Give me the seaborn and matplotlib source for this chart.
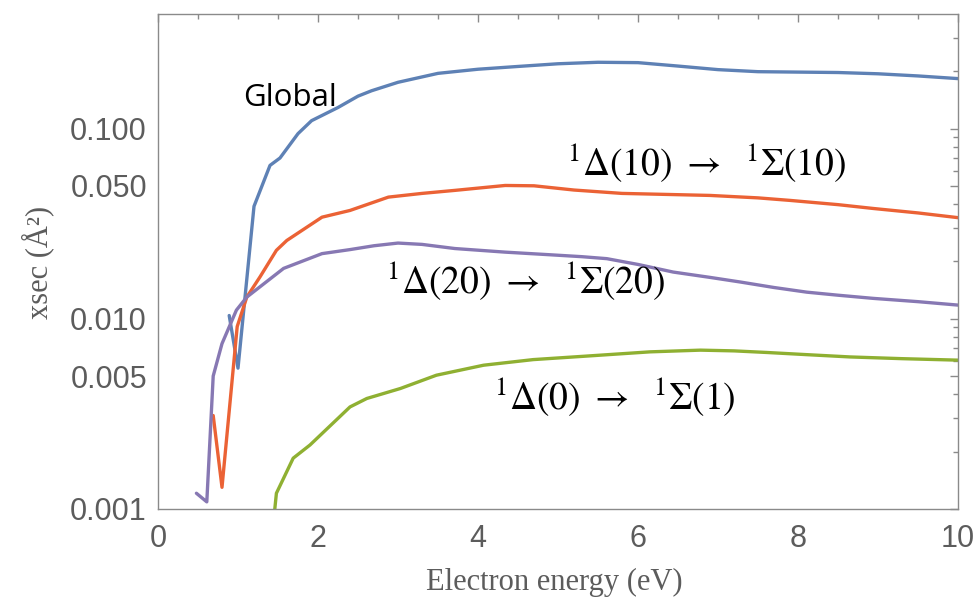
import numpy as np
import pandas as pd
import matplotlib
matplotlib.use("Agg")
import matplotlib.pyplot as plt
from matplotlib.ticker import FixedLocator, MultipleLocator, NullFormatter
import seaborn as sns

# ---------------- data ----------------
energy_global = [0.89, 1.0, 1.2, 1.4, 1.525, 1.75, 1.92, 2.25, 2.5, 2.67, 3.0, 3.5, 4.0, 4.5, 5.0, 5.5, 6.0, 6.5, 7.0, 7.5, 8.0, 8.5, 9.0, 9.5, 10.0]
xsec_global = [0.0104, 0.0055, 0.039, 0.064, 0.070, 0.094, 0.110, 0.129, 0.148, 0.158, 0.175, 0.195, 0.205, 0.212, 0.219, 0.223, 0.222, 0.213, 0.204, 0.199, 0.198, 0.197, 0.194, 0.189, 0.183]

energy_d10 = [0.69, 0.80, 0.99, 1.11, 1.275, 1.48, 1.61, 2.05, 2.4, 2.88, 3.3, 3.71, 4.34, 4.7, 5.2, 5.8, 6.4, 6.9, 7.5, 7.9, 8.5, 8.94, 9.5, 10.0]
xsec_d10 = [0.0031, 0.0013, 0.0091, 0.013, 0.0166, 0.0229, 0.0258, 0.0342, 0.0371, 0.0436, 0.0456, 0.0473, 0.0502, 0.0500, 0.0475, 0.0456, 0.0450, 0.0445, 0.0432, 0.0419, 0.0398, 0.038, 0.036, 0.034]

energy_d20 = [0.48, 0.61, 0.69, 0.80, 0.98, 1.11, 1.57, 2.05, 2.4, 2.7, 3.0, 3.3, 3.71, 4.34, 4.9, 5.3, 5.61, 6.0, 6.44, 6.9, 7.28, 7.7, 8.11, 8.5, 8.94, 9.5, 10.0]
xsec_d20 = [0.00121, 0.00109, 0.0050, 0.0074, 0.0111, 0.013, 0.0184, 0.022, 0.0231, 0.0242, 0.025, 0.0246, 0.0234, 0.0224, 0.0217, 0.0212, 0.0207, 0.0193, 0.0176, 0.0165, 0.0156, 0.0146, 0.0138, 0.0133, 0.0128, 0.0123, 0.0118]

energy_d0 = [1.46, 1.48, 1.69, 1.9, 2.4, 2.61, 3.03, 3.48, 4.07, 4.69, 5.32, 5.8, 6.15, 6.78, 7.2, 7.61, 8.1, 8.65, 9.3, 10.0]
xsec_d0 = [0.00100, 0.00121, 0.00185, 0.00217, 0.00344, 0.00381, 0.0043, 0.00505, 0.0057, 0.0061, 0.00635, 0.00655, 0.0067, 0.00684, 0.00678, 0.00665, 0.00648, 0.0063, 0.00617, 0.00606]

y_tick_values = [0.001, 0.005, 0.010, 0.050, 0.100]
y_tick_labels = ["0.001", "0.005", "0.010", "0.050", "0.100"]
x_tick_values = [0, 2, 4, 6, 8, 10]
x_tick_labels = ["0", "2", "4", "6", "8", "10"]

label_global = "Global"
label_d10 = r"$^1\Delta(10)\ \rightarrow\ \ ^1\Sigma(10)$"
label_d20 = r"$^1\Delta(20)\ \rightarrow\ \ ^1\Sigma(20)$"
label_d0 = r"$^1\Delta(0)\ \rightarrow\ \ ^1\Sigma(1)$"

# ---------------- style ----------------
sns.set_theme(style="white")
plt.rcParams["font.family"] = ["Liberation Sans", "DejaVu Sans"]
plt.rcParams["mathtext.fontset"] = "stix"

colors = {"global": "#5E81B5", "d10": "#EB6235", "d20": "#8778B3", "d0": "#8FB032"}
frame_color = "#8a8a8a"
text_gray = "#5c5c5c"

fig = plt.figure(figsize=(9.8, 6.01), dpi=100)
ax = fig.add_axes([158 / 980, (601 - 509) / 601, 800 / 980, 495 / 601])

series = [
    (energy_global, xsec_global, "global"),
    (energy_d10, xsec_d10, "d10"),
    (energy_d20, xsec_d20, "d20"),
    (energy_d0, xsec_d0, "d0"),
]
for xs, ys, key in series:
    df = pd.DataFrame({"energy": xs, "xsec": ys})
    sns.lineplot(data=df, x="energy", y="xsec", ax=ax, color=colors[key],
                 linewidth=2.4, estimator=None, sort=False, legend=False)

ax.set_yscale("log")
ax.set_xlim(0, 10)
ax.set_ylim(0.001, 0.4)

# ticks
ax.xaxis.set_major_locator(FixedLocator(x_tick_values))
ax.set_xticklabels(x_tick_labels)
ax.xaxis.set_minor_locator(MultipleLocator(0.5))
ax.yaxis.set_major_locator(FixedLocator(y_tick_values))
ax.set_yticklabels(y_tick_labels)
minor_y = [m * 10.0 ** e for e in (-3, -2, -1) for m in (2, 3, 4, 6, 7, 8, 9)]
ax.yaxis.set_minor_locator(FixedLocator([v for v in minor_y if v < 0.4]))
ax.yaxis.set_minor_formatter(NullFormatter())

ax.tick_params(which="both", direction="in", top=True, right=True,
               color=frame_color, width=1.0)
ax.tick_params(which="major", length=5.8)
ax.tick_params(which="minor", length=3.4)
ax.tick_params(axis="x", which="major", pad=11, labelsize=22, labelcolor=text_gray)
ax.tick_params(axis="y", which="major", pad=8, labelsize=22, labelcolor=text_gray)

for sp in ax.spines.values():
    sp.set_color(frame_color)
    sp.set_linewidth(1.0)
    sp.set_visible(True)

serif = ["Liberation Serif", "DejaVu Serif"]
ax.set_xlabel("Electron energy (eV)", fontsize=22, color=text_gray, family=serif, va="center")
ax.xaxis.set_label_coords(0.496, -0.149)
ax.set_ylabel("xsec (Å²)", fontsize=22, color=text_gray, family=serif, va="center")
ax.yaxis.set_label_coords(-0.15, 0.499)

# annotations
ax.text(1.07, 0.132, label_global, fontsize=22.5, color="black",
        family=["Open Sans", "DejaVu Sans"], ha="left", va="baseline")
ax.text(5.11, 0.0655, label_d10, fontsize=27, color="black",
        ha="left", va="center")
ax.text(2.85, 0.01574, label_d20, fontsize=27, color="black",
        ha="left", va="center")
ax.text(4.2, 0.00387, label_d0, fontsize=27, color="black",
        ha="left", va="center")

fig.savefig("out.png", dpi=100)
